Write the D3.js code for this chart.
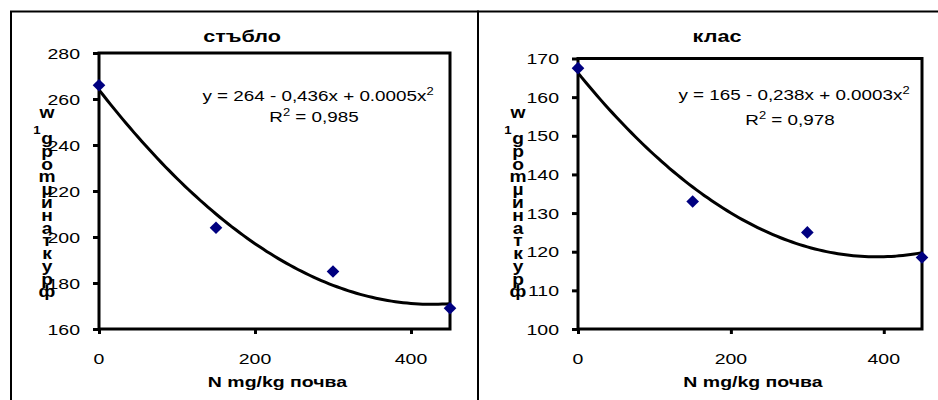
<!DOCTYPE html>
<html>
<head>
<meta charset="utf-8">
<script src="https://cdn.jsdelivr.net/npm/d3@7"></script>
<style>
  body { margin: 0; background: #fff; }
  text { font-family: "Liberation Sans", Arial, sans-serif; fill: #000; }
</style>
</head>
<body>
<div id="chart"></div>
<script>
const w = 938;
const h = 400;

// N doses, mg/kg soil
const doses = [0, 150, 300, 450];
// stem (стъбло) and ear (клас) values
const stemValues = [266, 204, 185, 169];
const earValues = [167.5, 133, 125, 118.5];

const stemTicks = [160, 180, 200, 220, 240, 260, 280];
const earTicks = [100, 110, 120, 130, 140, 150, 160, 170];
const xTicks = [0, 200, 400];

const stemEq = ["y = 264 - 0,436x + 0.0005x", "R", " = 0,985"];
const earEq = ["y = 165 - 0,238x + 0.0003x", "R", " = 0,978"];

const yLabelGlyphs = ["w", "1", "g", "р", "о", "m", "µ", "и", "н", "а", "т", "к", "у", "р", "ф"];
const xTitle = "N mg/kg почва";

const sx = 1.3; // text in the picture is stretched sideways

let svg = d3.select('#chart')
  .append('svg')
    .attr('width', w)
    .attr('height', h);

// least squares quadratic, like the excel trendline
function quadFit(xs, ys) {
  let n = xs.length, s = [0, 0, 0, 0, 0], t = [0, 0, 0];
  for (let i = 0; i < n; i++) {
    let p = 1;
    for (let k = 0; k < 5; k++) { s[k] += p; if (k < 3) t[k] += p * ys[i]; p *= xs[i]; }
  }
  let m = [[s[0], s[1], s[2], t[0]], [s[1], s[2], s[3], t[1]], [s[2], s[3], s[4], t[2]]];
  for (let c = 0; c < 3; c++) {
    for (let r = c + 1; r < 3; r++) {
      let f = m[r][c] / m[c][c];
      for (let k = c; k < 4; k++) m[r][k] -= f * m[c][k];
    }
  }
  let coef = [0, 0, 0];
  for (let r = 2; r >= 0; r--) {
    let v = m[r][3];
    for (let k = r + 1; k < 3; k++) v -= m[r][k] * coef[k];
    coef[r] = v / m[r][r];
  }
  return coef;
}

function stretchText(g, x, y, str, k) {
  return g.append('text')
    .attr('transform', `translate(${x},${y}) scale(${k || sx},1)`)
    .text(str);
}

function panel(opt) {
  let g = svg.append('g');

  g.append('rect')
    .attr('x', opt.frame[0]).attr('y', 11.5)
    .attr('width', opt.frame[1] - opt.frame[0]).attr('height', 420)
    .attr('fill', 'none').attr('stroke', '#000').attr('stroke-width', 2);

  let xScale = d3.scaleLinear().domain([0, 450]).range([opt.left, opt.right]);
  let yScale = d3.scaleLinear().domain(d3.extent(opt.ticks)).range([opt.bottom, opt.top]);

  // plot box
  g.append('rect')
    .attr('x', opt.left).attr('y', opt.top)
    .attr('width', opt.right - opt.left).attr('height', opt.bottom - opt.top)
    .attr('fill', 'none').attr('stroke', '#000').attr('stroke-width', 3);

  let yAxis = g.append('g')
    .attr('transform', `translate(${opt.left},0)`)
    .call(d3.axisLeft(yScale).tickValues(opt.ticks).tickSize(6).tickFormat(''));
  yAxis.select('.domain').remove();
  yAxis.selectAll('.tick line').attr('stroke-width', 3);

  let xAxis = g.append('g')
    .attr('transform', `translate(0,${opt.bottom})`)
    .call(d3.axisBottom(xScale).tickValues(xTicks).tickSize(5).tickFormat(''));
  xAxis.select('.domain').remove();
  xAxis.selectAll('.tick line').attr('stroke-width', 3);

  // stacked y label (drawn first, the tick numbers sit over it)
  let step = (292 - 113) / (yLabelGlyphs.length - 1);
  yLabelGlyphs.forEach((c, i) => {
    let small = c === '1';
    g.append('text')
      .attr('transform', `translate(${opt.labelX + (small ? -10 : 0)},${113 + i * step + (small ? 5 : 0)}) scale(1.2,1)`)
      .attr('text-anchor', 'middle')
      .attr('dominant-baseline', 'central')
      .style('font-size', small ? '11px' : '16px')
      .style('font-weight', 'bold')
      .text(c);
  });

  opt.ticks.forEach((t) => {
    stretchText(g, opt.left - 19, yScale(t) + 5.5, t)
      .attr('text-anchor', 'end').style('font-size', '15px');
  });
  xTicks.forEach((t) => {
    stretchText(g, xScale(t), 364, t)
      .attr('text-anchor', 'middle').style('font-size', '15px');
  });

  stretchText(g, (opt.left + opt.right) / 2 + 3, 387, xTitle)
    .attr('text-anchor', 'middle').style('font-size', '15px').style('font-weight', 'bold');

  stretchText(g, opt.titleX, 42, opt.title, 1.35)
    .attr('text-anchor', 'middle').style('font-size', '16px').style('font-weight', 'bold');

  // trendline
  let coef = quadFit(doses, opt.values);
  let xs = d3.range(0, 451, 5);
  g.append('path')
    .datum(xs)
    .attr('fill', 'none')
    .attr('stroke', '#000')
    .attr('stroke-width', 3)
    .attr('d', d3.line()
      .x((d) => xScale(d))
      .y((d) => yScale(coef[0] + coef[1] * d + coef[2] * d * d))
      .curve(d3.curveMonotoneX));

  g.selectAll('path.pt')
    .data(doses)
    .enter()
    .append('path')
    .attr('class', 'pt')
    .attr('d', d3.symbol(d3.symbolSquare, 80))
    .attr('transform', (d, i) => `translate(${xScale(d)},${yScale(opt.values[i])}) rotate(45)`)
    .attr('fill', '#000080');

  // equation
  let eq1 = stretchText(g, opt.eqX, opt.eqY, opt.eq[0])
    .attr('text-anchor', 'middle').style('font-size', '14.5px');
  eq1.append('tspan').attr('dy', -6).style('font-size', '10px').text('2');
  let eq2 = stretchText(g, opt.eqX - 4, opt.eqY + opt.eqGap, opt.eq[1])
    .attr('text-anchor', 'middle').style('font-size', '14.5px');
  eq2.append('tspan').attr('dy', -6).style('font-size', '10px').text('2');
  eq2.append('tspan').attr('dy', 6).text(opt.eq[2]);
}

panel({
  frame: [11, 478], left: 99, right: 450, top: 53, bottom: 329,
  ticks: stemTicks, values: stemValues, title: "стъбло", titleX: 242,
  eq: stemEq, eqX: 318, eqY: 101, eqGap: 21, labelX: 47
});

panel({
  frame: [478, 960], left: 578, right: 922, top: 58.5, bottom: 329,
  ticks: earTicks, values: earValues, title: "клас", titleX: 717,
  eq: earEq, eqX: 794, eqY: 100, eqGap: 25, labelX: 518
});
</script>
</body>
</html>
